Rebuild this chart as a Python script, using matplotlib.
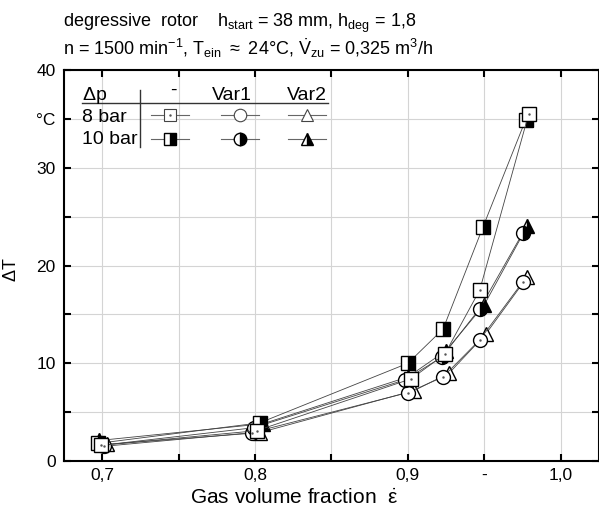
import numpy as np
import matplotlib
matplotlib.use('Agg')
import matplotlib.pyplot as plt

plt.rcParams['font.family'] = ['Liberation Sans', 'DejaVu Sans']
plt.rcParams['mathtext.default'] = 'regular'

# data: x = gas volume fraction, y = delta T
sq8_x = [0.699, 0.801, 0.902, 0.924, 0.947, 0.979]
sq8_y = [1.6, 3.1, 8.4, 10.9, 17.5, 35.5]
sq10_x = [0.697, 0.803, 0.900, 0.923, 0.949, 0.977]
sq10_y = [1.8, 3.9, 10.0, 13.5, 23.9, 34.9]
ci8_x = [0.701, 0.798, 0.900, 0.923, 0.947, 0.975]
ci8_y = [1.5, 2.9, 7.0, 8.6, 12.4, 18.3]
ci10_x = [0.699, 0.799, 0.898, 0.922, 0.947, 0.975]
ci10_y = [1.6, 3.4, 8.3, 10.6, 15.6, 23.3]
tr8_x = [0.703, 0.803, 0.904, 0.927, 0.951, 0.978]
tr8_y = [1.7, 2.9, 7.2, 9.0, 13.0, 18.8]
tr10_x = [0.698, 0.805, 0.900, 0.925, 0.950, 0.978]
tr10_y = [2.1, 3.8, 8.6, 11.3, 16.0, 24.0]

x_ticks = [0.7, 0.75, 0.8, 0.85, 0.9, 0.95, 1.0]
x_labels = ['0,7', '', '0,8', '', '0,9', '-', '1,0']
y_ticks = [0, 5, 10, 15, 20, 25, 30, 35, 40]
y_labels = ['0', '', '10', '', '20', '', '30', '°C', '40']

fig = plt.figure(figsize=(5.99, 5.16), dpi=100)
ax = fig.add_axes([0.1068, 0.1066, 0.8932, 0.7577])

lc = '#444444'
ms = 10


def series(x, y, marker, filled, dot=False):
    if filled:
        ax.plot(x, y, color=lc, lw=0.6, marker=marker, ms=ms, mec='black', mew=1.0,
                fillstyle='right', mfc='black', mfcalt='white', zorder=3)
    else:
        ax.plot(x, y, color=lc, lw=0.6, marker=marker, ms=ms, mec='black', mew=1.0,
                mfc='white', zorder=3)
        if dot:
            ax.plot(x, y, ls='none', marker='.', ms=1.5, color='#555555', zorder=4)


series(tr8_x, tr8_y, '^', False)
series(tr10_x, tr10_y, '^', True)
series(ci8_x, ci8_y, 'o', False, dot=True)
series(ci10_x, ci10_y, 'o', True)
series(sq10_x, sq10_y, 's', True)
series(sq8_x, sq8_y, 's', False, dot=True)

ax.set_xlim(0.675, 1.025)
ax.set_ylim(0, 40)
ax.set_xticks(x_ticks)
ax.set_xticklabels(x_labels)
ax.set_yticks(y_ticks)
ax.set_yticklabels(y_labels)
ax.tick_params(direction='in', length=5, width=1.5, top=True, right=True,
               labelsize=12.5, pad=6)
ax.tick_params(axis='x', pad=5)
ax.grid(True, color='#d4d4d4', lw=0.8)
ax.set_axisbelow(True)
for s in ax.spines.values():
    s.set_linewidth(1.5)

ax.set_xlabel(r'Gas volume fraction  $\dot{\varepsilon}$', fontsize=15)
ax.xaxis.set_label_coords(0.43, -0.068)
ax.set_ylabel(r'$\Delta$T', fontsize=13)
ax.yaxis.set_label_coords(-0.082, 0.49)

# title lines
fig.text(0.105, 0.948, r'degressive  rotor    h$_{start}$ = 38 mm, h$_{deg}$ = 1,8',
         fontsize=13, va='baseline')
fig.text(0.105, 0.893, r'n = 1500 min$^{-1}$, T$_{ein}$ $\approx$ 24°C, $\dot{V}_{zu}$ = 0,325 m$^3$/h',
         fontsize=13, va='baseline')

# table-like legend
tr = ax.transAxes
ax.text(0.034, 0.936, r'$\Delta$p', transform=tr, fontsize=14, va='center')
ax.text(0.204, 0.948, '-', transform=tr, fontsize=14, va='center', ha='center')
ax.text(0.314, 0.936, 'Var1', transform=tr, fontsize=14, va='center', ha='center')
ax.text(0.454, 0.936, 'Var2', transform=tr, fontsize=14, va='center', ha='center')
ax.plot([0.034, 0.493], [0.915, 0.915], transform=tr, color='#333333', lw=1.0)
ax.plot([0.142, 0.142], [0.949, 0.803], transform=tr, color='#333333', lw=1.0)
ax.text(0.034, 0.879, '8 bar', transform=tr, fontsize=14, va='center')
ax.text(0.034, 0.822, '10 bar', transform=tr, fontsize=14, va='center')

cols = [(0.198, 's'), (0.329, 'o'), (0.454, '^')]
rows = [(0.884, False), (0.824, True)]
for cx, mk in cols:
    for ry, filled in rows:
        ax.plot([cx - 0.035, cx + 0.035], [ry, ry], transform=tr, color='#666666', lw=0.8)
        if filled:
            ax.plot([cx], [ry], transform=tr, marker=mk, ms=9, mec='black', mew=1.0,
                    fillstyle='right', mfc='black', mfcalt='white', ls='none')
        else:
            ax.plot([cx], [ry], transform=tr, marker=mk, ms=9, mec='#444444', mew=0.8,
                    mfc='white', ls='none')
            if mk == 's':
                ax.plot([cx], [ry], transform=tr, marker='.', ms=1.5, color='#555555', ls='none')

fig.savefig('out.png', dpi=100)
